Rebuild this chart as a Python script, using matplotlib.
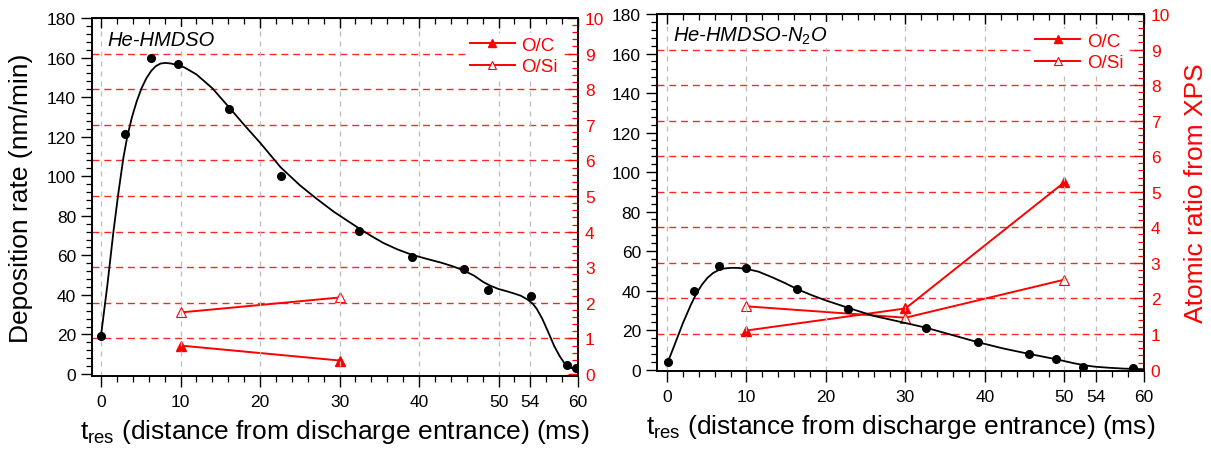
#!/usr/bin/env python3
"""
Deposition rate and XPS atomic ratios along the discharge, He-HMDSO vs He-HMDSO-N2O.
"""

import numpy as np
import matplotlib
matplotlib.use("Agg")
import matplotlib.pyplot as plt
from matplotlib.ticker import MultipleLocator

plt.rcParams["font.family"] = ["Liberation Sans", "DejaVu Sans"]
plt.rcParams["mathtext.fontset"] = "custom"
plt.rcParams["mathtext.rm"] = "Liberation Sans"
plt.rcParams["mathtext.it"] = "Liberation Sans:italic"

# x ticks (ms)
X_TICKS = [0, 10, 20, 30, 40, 50, 54, 60]
X_TICK_LABELS = ["0", "10", "20", "30", "40", "50", "54", "60"]

# --- He-HMDSO ---
hmdso_t = [0, 3.0, 6.3, 9.7, 16.1, 22.7, 32.5, 39.1, 45.6, 48.7, 54.1, 58.6, 59.8]
hmdso_rate = [19.2, 121.5, 160, 156.6, 134, 100, 72.2, 59.3, 53, 42.7, 39.5, 4.4, 3.0]

# fitted curve
hmdso_fit_t = [0, 0.8, 1.55, 2.2, 2.8, 3.3, 3.9, 4.5, 5.1, 5.7, 6.3, 6.9, 7.5, 8.1,
               8.8, 9.6, 10.5, 12.0, 14.0, 16.4, 18.0, 20.0, 22.6, 25.0, 27.0,
               29.3, 31.0, 32.4, 34.0, 35.5, 37.3, 39.1, 41.0, 42.8, 44.3, 45.6,
               46.9, 48.1, 49.0, 50.0, 51.0, 51.9, 52.8, 53.6, 54.3, 54.8, 55.5,
               56.3, 57.0, 57.7, 58.2, 58.7, 59.3, 60.0]
hmdso_fit_rate = [19.5, 45, 71.6, 92, 109, 120, 130, 138, 144.5, 149.5, 153.2, 155.7,
                  157.0, 157.3, 157.0, 156.2, 155.0, 151.5, 144.5, 133.5, 126, 117,
                  104.5, 95.5, 89, 82, 77.5, 73.8, 69.8, 66.3, 63.0, 60.3, 58.2,
                  56.3, 54.4, 52.4, 49.8, 46.5, 44.6, 43.0, 41.9, 40.8, 39.6, 37.8,
                  35.6, 33.0, 28.0, 20.8, 14.2, 9.0, 6.0, 3.9, 2.8, 2.2]

hmdso_xps_t = [10, 30]
hmdso_oc = [0.80, 0.38]
hmdso_osi = [1.73, 2.15]

# --- He-HMDSO-N2O ---
n2o_t = [0.1, 3.4, 6.6, 9.9, 16.4, 22.8, 32.6, 39.1, 45.5, 48.9, 52.3, 58.6]
n2o_rate = [3.7, 39.8, 52.5, 51.5, 40.8, 30.6, 21.2, 13.9, 7.8, 5.2, 1.3, 0.7]

n2o_fit_t = [0.1, 1.0, 2.0, 3.0, 3.7, 4.4, 5.1, 5.8, 6.5, 7.2, 8.0, 8.8, 9.9, 11.5,
             13.2, 14.8, 16.4, 18.2, 20.0, 23.0, 26.0, 30.0, 32.6, 35.8, 39.1,
             42.2, 45.5, 48.9, 51.0, 52.5, 53.8, 55.4, 57.5, 60.0]
n2o_fit_rate = [3.7, 13, 23.5, 32.8, 38.5, 43.0, 46.5, 48.9, 50.4, 51.2, 51.5,
                51.5, 51.1, 49.6, 46.8, 43.9, 40.7, 37.7, 35.0, 31.0, 27.2, 23.6,
                21.2, 17.6, 13.9, 10.8, 8.0, 5.3, 3.4, 2.2, 1.5, 1.0, 0.5, 0.2]

n2o_xps_t = [10, 30, 50]
n2o_oc = [1.10, 1.72, 5.27]
n2o_osi = [1.78, 1.46, 2.53]

RED = "#ff0000"
GRID_GRAY = "#bdbdbd"


def draw_panel(fig, rect, xlim, ylim, label, t, rate, fit_t, fit_rate,
               xps_t, oc, osi, right_label=None):
    ax = fig.add_axes(rect)
    ax2 = ax.twinx()
    # black data on top of the red axis
    ax.set_zorder(ax2.get_zorder() + 1)
    ax.patch.set_visible(False)

    ax.set_xlim(*xlim)
    ax.set_ylim(*ylim)
    ax2.set_ylim(ylim[0] / 18.0, ylim[1] / 18.0)

    # red dashed guides at each atomic-ratio unit
    for v in np.arange(1, 10):
        ax2.axhline(v, color=RED, lw=1.0, alpha=0.85, dashes=(5, 3.5), zorder=0)

    # gray dashed verticals
    for v in X_TICKS[:-1]:
        ax.axvline(v, color=GRID_GRAY, lw=0.9, dashes=(4, 4), zorder=0)

    ax2.plot(xps_t, oc, "-", color=RED, lw=1.4, marker="^", ms=7,
             mfc=RED, mec=RED, label="O/C", clip_on=False)
    ax2.plot(xps_t, osi, "-", color=RED, lw=1.4, marker="^", ms=7,
             mfc="white", mec=RED, mew=0.8, label="O/Si", clip_on=False)

    ax.plot(fit_t, fit_rate, "-", color="black", lw=1.3, zorder=3)
    ax.plot(t, rate, "o", color="black", ms=5.5, zorder=4)

    # axes styling
    ax.set_xticks(X_TICKS)
    ax.set_xticklabels(X_TICK_LABELS)
    ax.xaxis.set_minor_locator(MultipleLocator(2))
    ax.yaxis.set_major_locator(MultipleLocator(20))
    ax.yaxis.set_minor_locator(MultipleLocator(4))
    ax.tick_params(which="major", direction="out", length=8, width=1.0, labelsize=12.5)
    ax.tick_params(which="minor", direction="out", length=4.5, width=0.9)
    ax.tick_params(axis="x", pad=5)

    top = ax.secondary_xaxis("top")
    top.set_xticks(X_TICKS, labels=[""] * len(X_TICKS))
    top.xaxis.set_minor_locator(MultipleLocator(2))
    top.tick_params(which="major", direction="in", length=7, width=1.0)
    top.tick_params(which="minor", direction="in", length=4.5, width=0.9)

    ax2.yaxis.set_major_locator(MultipleLocator(1))
    ax2.yaxis.set_minor_locator(MultipleLocator(0.2))
    ax2.tick_params(axis="y", which="major", direction="in", length=7, width=1.0,
                    colors=RED, labelsize=12.5, pad=5)
    ax2.tick_params(axis="y", which="minor", direction="in", length=4, width=0.9,
                    colors=RED)
    ax2.spines["right"].set_color(RED)
    for sp in ax2.spines.values():
        sp.set_linewidth(1.2)
    for sp in ax.spines.values():
        sp.set_linewidth(1.2)

    ax.set_xlabel(r"t$_{\mathrm{res}}$ (distance from discharge entrance) (ms)",
                  fontsize=19, labelpad=6)
    if right_label:
        ax2.set_ylabel(right_label, fontsize=19, color=RED, labelpad=10)

    ax.text(0.032, 0.926, label, transform=ax.transAxes, fontsize=14.5,
            style="italic", va="baseline", ha="left", zorder=6,
            bbox=dict(facecolor="white", edgecolor="none", pad=1.5))

    h, lab = ax2.get_legend_handles_labels()
    leg = ax.legend(h, lab, loc="upper right", bbox_to_anchor=(0.985, 0.985),
                    fontsize=13.5, handlelength=2.4, handletextpad=0.35,
                    labelspacing=0.25, borderpad=0.2, frameon=True,
                    fancybox=False, markerscale=0.75)
    leg.get_frame().set_facecolor("white")
    leg.get_frame().set_edgecolor("none")
    leg.get_frame().set_alpha(1)
    for txt in leg.get_texts():
        txt.set_color(RED)
    return ax, ax2


def main():
    fig = plt.figure(figsize=(12.11, 4.56), dpi=100)

    ax_l, _ = draw_panel(fig, [0.0760, 0.1732, 0.4013, 0.7851], (-1.13, 60), (-1.0, 180),
                         "He-HMDSO", hmdso_t, hmdso_rate, hmdso_fit_t, hmdso_fit_rate,
                         hmdso_xps_t, hmdso_oc, hmdso_osi)
    ax_l.set_ylabel("Deposition rate (nm/min)", fontsize=19, labelpad=10)

    draw_panel(fig, [0.5425, 0.1842, 0.4021, 0.7829], (-1.26, 60), (-0.7, 180),
               "He-HMDSO-N$_2$O", n2o_t, n2o_rate, n2o_fit_t, n2o_fit_rate,
               n2o_xps_t, n2o_oc, n2o_osi, right_label="Atomic ratio from XPS")

    fig.savefig("out.png", dpi=100)
    plt.close(fig)


if __name__ == "__main__":
    main()
